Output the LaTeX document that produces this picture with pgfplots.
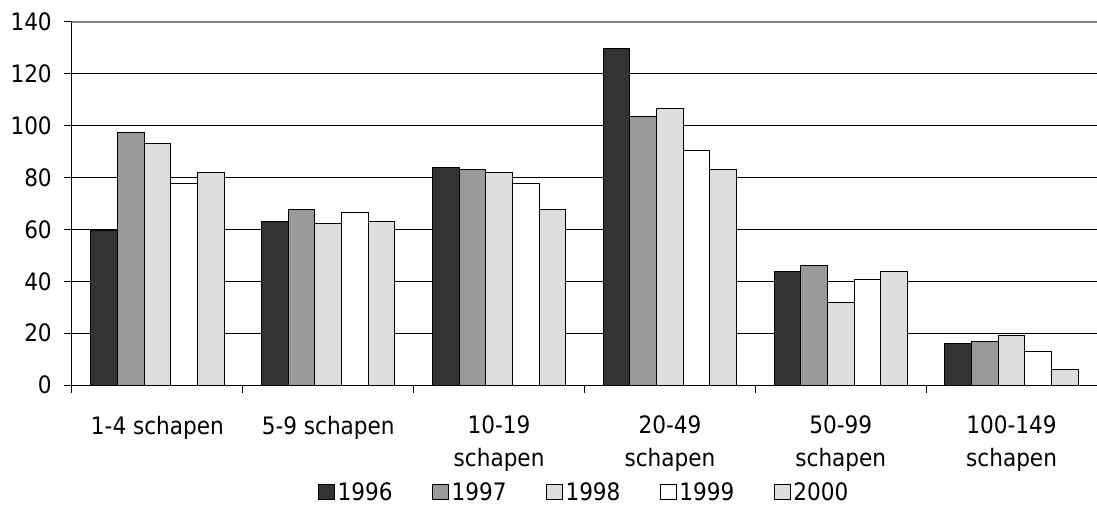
\documentclass[border=0pt]{standalone}
\usepackage{pgfplots}
\pgfplotsset{compat=1.18}
\usepackage{fontspec}
\setmainfont{DejaVu Sans Condensed}
\definecolor{c96}{HTML}{333333}
\definecolor{c97}{HTML}{999999}
\definecolor{c98}{HTML}{DDDDDD}
\definecolor{c99}{HTML}{FFFFFF}
\definecolor{c00}{HTML}{DDDDDD}
\begin{document}
\begin{tikzpicture}
\begin{axis}[
  scale only axis,
  width=768.75pt, height=272.25pt,
  at={(0,0)}, anchor=south west,
  ybar=0pt, bar width=0.156,
  xmin=-0.5, xmax=5.5, ymin=0, ymax=140,
  axis x line*=bottom, axis y line*=left,
  axis line style={black, line width=0.75pt},
  xtick={0,...,5},
  xticklabels={1-4 schapen, 5-9 schapen, 10-19\\schapen, 20-49\\schapen, 50-99\\schapen, 100-149\\schapen},
  major x tick style={draw=none},
  minor xtick={-0.5,0.5,1.5,2.5,3.5,4.5},
  minor x tick style={black, line width=0.75pt},
  minor tick length=6pt,
  major tick length=6pt,
  xtick align=outside, ytick align=outside,
  ytick={0,20,...,120},
  extra y ticks={140},
  extra y tick style={major grid style={draw=gray, line width=1pt}, ytick align=outside, major tick length=6pt, tick style={draw=black, line width=0.75pt}},
  ymajorgrids,
  major grid style={black, line width=0.75pt},
  y tick style={draw=black, line width=0.75pt},
  tick label style={font=\fontsize{18}{24.75}\selectfont},
  /pgf/number format/assume math mode=true,
  xticklabel style={align=center, anchor=north, inner sep=0pt, yshift=-17pt},
  yticklabel style={anchor=east, inner sep=0pt, xshift=-9pt},
  legend columns=5,
  legend style={at={(0.5,-0.296)}, anchor=center, draw=none, fill=none,
    font=\fontsize{18}{22}\selectfont,
    /tikz/every even column/.append style={column sep=27.5pt}},
  legend image code/.code={\draw[#1] (0pt,-5.6pt) rectangle (12pt,5.6pt);},
]
\addplot[fill=c96, draw=black, line width=0.75pt] coordinates {(0,59.5) (1,62.9) (2,83.8) (3,129.6) (4,43.6) (5,15.9)};
\addplot[fill=c97, draw=black, line width=0.75pt] coordinates {(0,97.3) (1,67.7) (2,83.0) (3,103.5) (4,46.0) (5,16.6)};
\addplot[fill=c98, draw=black, line width=0.75pt] coordinates {(0,93.1) (1,62.1) (2,81.9) (3,106.6) (4,31.9) (5,18.9)};
\addplot[fill=c99, draw=black, line width=0.75pt] coordinates {(0,77.8) (1,66.6) (2,77.6) (3,90.6) (4,40.5) (5,13.0)};
\addplot[fill=c00, draw=black, line width=0.75pt] coordinates {(0,81.9) (1,62.9) (2,67.7) (3,83.0) (4,43.6) (5,5.9)};
\legend{1996,1997,1998,1999,2000}
\end{axis}
\pgfresetboundingbox
\path[use as bounding box] (-54pt,-91.5pt) rectangle (768.75pt,288.75pt);
\end{tikzpicture}
\end{document}
